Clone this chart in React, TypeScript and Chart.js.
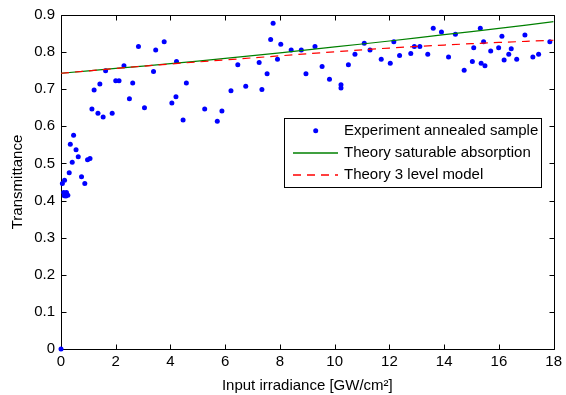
import React, { useEffect, useRef } from "react";
import { Chart, registerables } from "chart.js";

Chart.register(...registerables);

const expX = [
  0, 0.05, 0.13, 0.1, 0.2, 0.12, 0.25, 0.18, 0.3, 0.34, 0.46, 0.41, 0.55, 0.63, 0.75, 0.87, 0.97, 1.06,
  1.13, 1.21, 1.35, 1.42, 1.54, 1.63, 1.87, 2.0, 2.12, 2.3, 2.5, 2.62, 2.83, 3.05, 3.38, 3.46, 3.77,
  4.05, 4.2, 4.22, 4.46, 4.58, 5.25, 5.71, 5.88, 6.21, 6.46, 6.75, 7.24, 7.34, 7.53, 7.66, 7.75, 7.91,
  8.03, 8.41, 8.78, 8.95, 9.28, 9.54, 9.81, 10.23, 10.23, 10.5, 10.74, 11.08, 11.29, 11.7, 12.03, 12.16,
  12.37, 12.78, 12.91, 13.11, 13.4, 13.6, 13.9, 14.16, 14.41, 14.73, 15.03, 15.08, 15.32, 15.35, 15.44,
  15.49, 15.7, 15.99, 16.11, 16.19, 16.36, 16.45, 16.65, 16.95, 17.24, 17.45, 17.86,
];
const expY = [
  0, 0.446, 0.455, 0.422, 0.422, 0.413, 0.414, 0.412, 0.475, 0.552, 0.576, 0.503, 0.537, 0.518, 0.464,
  0.446, 0.51, 0.513, 0.647, 0.698, 0.635, 0.714, 0.625, 0.75, 0.635, 0.723, 0.723, 0.763, 0.674, 0.717,
  0.815, 0.65, 0.748, 0.806, 0.828, 0.663, 0.68, 0.775, 0.617, 0.717, 0.647, 0.614, 0.641, 0.696, 0.766,
  0.708, 0.772, 0.699, 0.742, 0.834, 0.878, 0.781, 0.821, 0.806, 0.806, 0.742, 0.815, 0.761, 0.727,
  0.712, 0.703, 0.766, 0.794, 0.824, 0.806, 0.781, 0.77, 0.828, 0.791, 0.796, 0.815, 0.815, 0.794,
  0.864, 0.854, 0.787, 0.848, 0.751, 0.775, 0.812, 0.864, 0.77, 0.828, 0.763, 0.803, 0.812, 0.843,
  0.779, 0.794, 0.809, 0.781, 0.846, 0.787, 0.794, 0.828,
];

const theoryX = [0, 2, 4, 6, 8, 10, 12, 14, 16, 18];
const saturableY = [0.743, 0.756, 0.769, 0.783, 0.798, 0.814, 0.83, 0.847, 0.864, 0.882];
const threeLevelY = [0.743, 0.756, 0.768, 0.779, 0.79, 0.801, 0.811, 0.819, 0.826, 0.832];

const xTickValues = [0, 2, 4, 6, 8, 10, 12, 14, 16, 18];
const xTickLabels = ["0", "2", "4", "6", "8", "10", "12", "14", "16", "18"];
const yTickValues = [0, 0.1, 0.2, 0.3, 0.4, 0.5, 0.6, 0.7, 0.8, 0.9];
const yTickLabels = ["0", "0.1", "0.2", "0.3", "0.4", "0.5", "0.6", "0.7", "0.8", "0.9"];

const seriesLabels = [
  "Experiment annealed sample",
  "Theory saturable absorption",
  "Theory 3 level model",
];
const xTitle = "Input irradiance [GW/cm\u00B2]";
const yTitle = "Transmittance";

const FONT = '"Liberation Sans", Arial, Helvetica, sans-serif';
const BLUE = "#0000ff";
const GREEN = "#008000";
const RED = "#ff0000";
const DASH = [8, 6];
const POINT_R = 2.5;

const framePlugin = {
  id: "frame",
  beforeDatasetsDraw(chart: any) {
    const { ctx, chartArea } = chart;
    const l = Math.round(chartArea.left) + 0.5;
    const r = Math.round(chartArea.right) + 0.5;
    const t = Math.round(chartArea.top) + 0.5;
    const b = Math.round(chartArea.bottom) + 0.5;
    ctx.save();
    ctx.strokeStyle = "#000";
    ctx.lineWidth = 1;
    ctx.beginPath();
    ctx.rect(l, t, r - l, b - t);
    const xs = chart.scales.x;
    const ys = chart.scales.y;
    const tl = 5;
    xTickValues.forEach((v) => {
      const p = Math.round(xs.getPixelForValue(v)) + 0.5;
      ctx.moveTo(p, b);
      ctx.lineTo(p, b - tl);
      ctx.moveTo(p, t);
      ctx.lineTo(p, t + tl);
    });
    yTickValues.forEach((v) => {
      const p = Math.round(ys.getPixelForValue(v)) + 0.5;
      ctx.moveTo(l, p);
      ctx.lineTo(l + tl, p);
      ctx.moveTo(r, p);
      ctx.lineTo(r - tl, p);
    });
    ctx.stroke();
    ctx.restore();
  },
};

const legendPlugin = {
  id: "boxLegend",
  afterDatasetsDraw(chart: any) {
    const { ctx } = chart;
    const bx = 284.5;
    const by = 118.5;
    const bw = 257;
    const bh = 69;
    ctx.save();
    ctx.fillStyle = "#fff";
    ctx.fillRect(bx, by, bw, bh);
    ctx.strokeStyle = "#000";
    ctx.lineWidth = 1;
    ctx.strokeRect(bx, by, bw, bh);
    const rows = [130.7, 152.7, 174.7];

    ctx.fillStyle = BLUE;
    ctx.beginPath();
    ctx.arc(315.7, rows[0], POINT_R, 0, Math.PI * 2);
    ctx.fill();

    ctx.strokeStyle = GREEN;
    ctx.lineWidth = 1.5;
    ctx.setLineDash([]);
    ctx.beginPath();
    ctx.moveTo(293, 153);
    ctx.lineTo(338, 153);
    ctx.stroke();

    ctx.strokeStyle = RED;
    ctx.setLineDash(DASH);
    ctx.beginPath();
    ctx.moveTo(293, 175);
    ctx.lineTo(338, 175);
    ctx.stroke();
    ctx.setLineDash([]);

    ctx.fillStyle = "#000";
    ctx.font = `15px ${FONT}`;
    ctx.textAlign = "left";
    ctx.textBaseline = "middle";
    const ds = chart.data.datasets;
    ds.forEach((d: any, i: number) => {
      ctx.fillText(d.label, 344, rows[i]);
    });
    ctx.restore();
  },
};

export default function App() {
  const ref = useRef<HTMLCanvasElement | null>(null);

  useEffect(() => {
    document.body.style.margin = "0";
    const canvas = ref.current;
    if (!canvas) return;
    const chart = new Chart(canvas, {
      type: "scatter",
      data: {
        datasets: [
          {
            label: seriesLabels[0],
            data: expX.map((x, i) => ({ x, y: expY[i] })),
            showLine: false,
            pointRadius: POINT_R,
            pointBackgroundColor: BLUE,
            pointBorderWidth: 0,
            pointBorderColor: BLUE,
            backgroundColor: BLUE,
            borderColor: BLUE,
            clip: false as any,
            order: 3,
          },
          {
            label: seriesLabels[1],
            data: theoryX.map((x, i) => ({ x, y: saturableY[i] })),
            showLine: true,
            pointRadius: 0,
            borderColor: GREEN,
            borderWidth: 1.2,
            tension: 0.4,
            order: 2,
          },
          {
            label: seriesLabels[2],
            data: theoryX.map((x, i) => ({ x, y: threeLevelY[i] })),
            showLine: true,
            pointRadius: 0,
            borderColor: RED,
            borderWidth: 1.2,
            borderDash: DASH,
            tension: 0.4,
            order: 1,
          },
        ],
      },
      options: {
        responsive: false,
        animation: false,
        devicePixelRatio: 1,
        layout: { padding: { left: 0, top: 12, right: 11, bottom: 0 } },
        plugins: {
          legend: { display: false },
          tooltip: { enabled: false },
        },
        scales: {
          x: {
            type: "linear",
            min: 0,
            max: 18,
            grid: { display: false, drawTicks: false },
            border: { display: false },
            afterFit: (s: any) => {
              s.height = 46;
            },
            afterBuildTicks: (s: any) => {
              s.ticks = xTickValues.map((v) => ({ value: v }));
            },
            ticks: {
              color: "#000",
              padding: 4,
              maxRotation: 0,
              autoSkip: false,
              font: { family: FONT, size: 15 },
              callback: (v: any) => {
                const i = xTickValues.indexOf(Number(v));
                return i >= 0 ? xTickLabels[i] : "";
              },
            },
            title: {
              display: true,
              text: xTitle,
              color: "#000",
              font: { family: FONT, size: 15 },
              padding: { top: 0, bottom: 0 },
            },
          },
          y: {
            type: "linear",
            min: 0,
            max: 0.9,
            grid: { display: false, drawTicks: false },
            border: { display: false },
            afterFit: (s: any) => {
              s.width = 61;
            },
            afterBuildTicks: (s: any) => {
              s.ticks = yTickValues.map((v) => ({ value: v }));
            },
            ticks: {
              color: "#000",
              padding: 6,
              autoSkip: false,
              font: { family: FONT, size: 15 },
              callback: (v: any) => {
                const i = yTickValues.findIndex((t) => Math.abs(t - Number(v)) < 1e-9);
                return i >= 0 ? yTickLabels[i] : "";
              },
            },
            title: {
              display: true,
              text: yTitle,
              color: "#000",
              font: { family: FONT, size: 15 },
              padding: { top: 9, bottom: 0 },
            },
          },
        },
      },
      plugins: [framePlugin, legendPlugin],
    });
    return () => chart.destroy();
  }, []);

  return (
    <div style={{ width: 566, height: 395, background: "#fff" }}>
      <canvas ref={ref} width={566} height={395} style={{ display: "block" }} />
    </div>
  );
}
